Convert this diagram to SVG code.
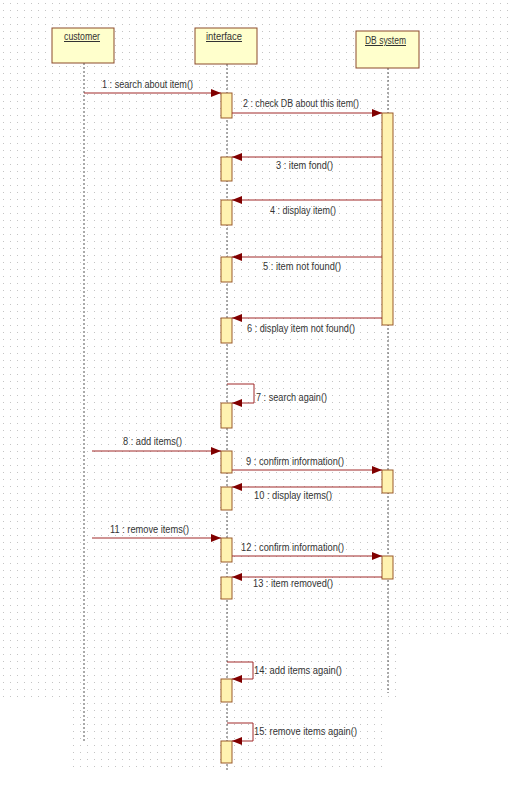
<svg xmlns="http://www.w3.org/2000/svg" width="514" height="792" viewBox="0 0 514 792">
<style>
.hdr{fill:#ffffcc;stroke:#8b4a2b;stroke-width:1}
.act{fill:#fff2b0;stroke:#9a5a2a;stroke-width:1}
.life{stroke:#555;stroke-width:1;stroke-dasharray:2,2;fill:none}
.msg{stroke:#a02828;stroke-width:1;fill:none}
.t{font-family:"Liberation Sans",Arial,sans-serif;font-size:10px;fill:#333}
.h{font-family:"Liberation Sans",Arial,sans-serif;font-size:10px;fill:#333;text-decoration:underline}
</style>
<defs>
<pattern id="grid" x="0" y="0" width="7" height="7" patternUnits="userSpaceOnUse">
<rect x="3" y="3" width="1" height="1" fill="#c4c4c4"/>
</pattern>
<marker id="ah" markerWidth="10" markerHeight="8" refX="10" refY="4" orient="auto" markerUnits="userSpaceOnUse">
<path d="M0,0 L10,4 L0,8 Z" fill="#800000"/>
</marker>
</defs>
<rect width="514" height="792" fill="#ffffff"/>
<rect x="0" y="0" width="514" height="640" fill="url(#grid)"/>
<rect x="0" y="640" width="398" height="63" fill="url(#grid)"/>
<rect x="70" y="703" width="313" height="70" fill="url(#grid)"/>

<g id="lifelines">
<line class="life" x1="84" y1="63" x2="84" y2="742"/>
<line class="life" x1="227" y1="64" x2="227" y2="772"/>
<line class="life" x1="388" y1="68" x2="388" y2="693"/>
</g>

<g id="customer">
<rect class="hdr" x="52" y="28" width="62" height="35"/>
<text class="h" x="64" y="40" textLength="36" lengthAdjust="spacingAndGlyphs">customer</text>
</g>
<g id="interface">
<rect class="hdr" x="195" y="28" width="62" height="36"/>
<text class="h" x="206" y="40" textLength="36" lengthAdjust="spacingAndGlyphs">interface</text>
</g>
<g id="dbsystem">
<rect class="hdr" x="356" y="31" width="63" height="37"/>
<text class="h" x="365" y="44" textLength="41" lengthAdjust="spacingAndGlyphs">DB system</text>
</g>

<g id="activations">
<rect class="act" x="221" y="93" width="11" height="25"/>
<rect class="act" x="382" y="113" width="11" height="212"/>
<rect class="act" x="221" y="157" width="11" height="24"/>
<rect class="act" x="221" y="200" width="11" height="25"/>
<rect class="act" x="221" y="257" width="11" height="25"/>
<rect class="act" x="221" y="318" width="11" height="25"/>
<rect class="act" x="221" y="403" width="11" height="25"/>
<rect class="act" x="221" y="451" width="11" height="22"/>
<rect class="act" x="382" y="470" width="11" height="23"/>
<rect class="act" x="221" y="487" width="11" height="23"/>
<rect class="act" x="221" y="538" width="11" height="24"/>
<rect class="act" x="382" y="556" width="11" height="23"/>
<rect class="act" x="221" y="577" width="11" height="22"/>
<rect class="act" x="221" y="679" width="11" height="23"/>
<rect class="act" x="221" y="741" width="11" height="22"/>
</g>

<g id="connectors">
<line class="msg" x1="84" y1="93" x2="221" y2="93" marker-end="url(#ah)"/>
<line class="msg" x1="232" y1="113" x2="382" y2="113" marker-end="url(#ah)"/>
<line class="msg" x1="382" y1="157" x2="232" y2="157" marker-end="url(#ah)"/>
<line class="msg" x1="382" y1="200" x2="232" y2="200" marker-end="url(#ah)"/>
<line class="msg" x1="382" y1="257" x2="232" y2="257" marker-end="url(#ah)"/>
<line class="msg" x1="382" y1="318" x2="232" y2="318" marker-end="url(#ah)"/>
<polyline class="msg" points="227,384 254,384 254,403 232,403" marker-end="url(#ah)"/>
<line class="msg" x1="92" y1="451" x2="221" y2="451" marker-end="url(#ah)"/>
<line class="msg" x1="232" y1="470" x2="382" y2="470" marker-end="url(#ah)"/>
<line class="msg" x1="382" y1="487" x2="232" y2="487" marker-end="url(#ah)"/>
<line class="msg" x1="92" y1="538" x2="221" y2="538" marker-end="url(#ah)"/>
<line class="msg" x1="232" y1="556" x2="382" y2="556" marker-end="url(#ah)"/>
<line class="msg" x1="382" y1="577" x2="232" y2="577" marker-end="url(#ah)"/>
<polyline class="msg" points="227,662 253,662 253,679 232,679" marker-end="url(#ah)"/>
<polyline class="msg" points="227,723 253,723 253,741 232,741" marker-end="url(#ah)"/>
</g>

<g id="labels">
<text class="t" x="102" y="88" textLength="91" lengthAdjust="spacingAndGlyphs">1 : search about item()</text>
<text class="t" x="243" y="107" textLength="116" lengthAdjust="spacingAndGlyphs">2 : check DB about this item()</text>
<text class="t" x="276" y="169" textLength="57" lengthAdjust="spacingAndGlyphs">3 : item fond()</text>
<text class="t" x="270" y="214" textLength="66" lengthAdjust="spacingAndGlyphs">4 : display item()</text>
<text class="t" x="263" y="270" textLength="78" lengthAdjust="spacingAndGlyphs">5 : item not found()</text>
<text class="t" x="247" y="332" textLength="108" lengthAdjust="spacingAndGlyphs">6 : display item not found()</text>
<text class="t" x="256" y="401" textLength="71" lengthAdjust="spacingAndGlyphs">7 : search again()</text>
<text class="t" x="123" y="445" textLength="59" lengthAdjust="spacingAndGlyphs">8 : add items()</text>
<text class="t" x="246" y="465" textLength="98" lengthAdjust="spacingAndGlyphs">9 : confirm information()</text>
<text class="t" x="254" y="499" textLength="78" lengthAdjust="spacingAndGlyphs">10 : display items()</text>
<text class="t" x="110" y="533" textLength="79" lengthAdjust="spacingAndGlyphs">11 : remove items()</text>
<text class="t" x="241" y="551" textLength="103" lengthAdjust="spacingAndGlyphs">12 : confirm information()</text>
<text class="t" x="253" y="587" textLength="80" lengthAdjust="spacingAndGlyphs">13 : item removed()</text>
<text class="t" x="254" y="674" textLength="88" lengthAdjust="spacingAndGlyphs">14: add items again()</text>
<text class="t" x="254" y="735" textLength="103" lengthAdjust="spacingAndGlyphs">15: remove items again()</text>
</g>
</svg>
